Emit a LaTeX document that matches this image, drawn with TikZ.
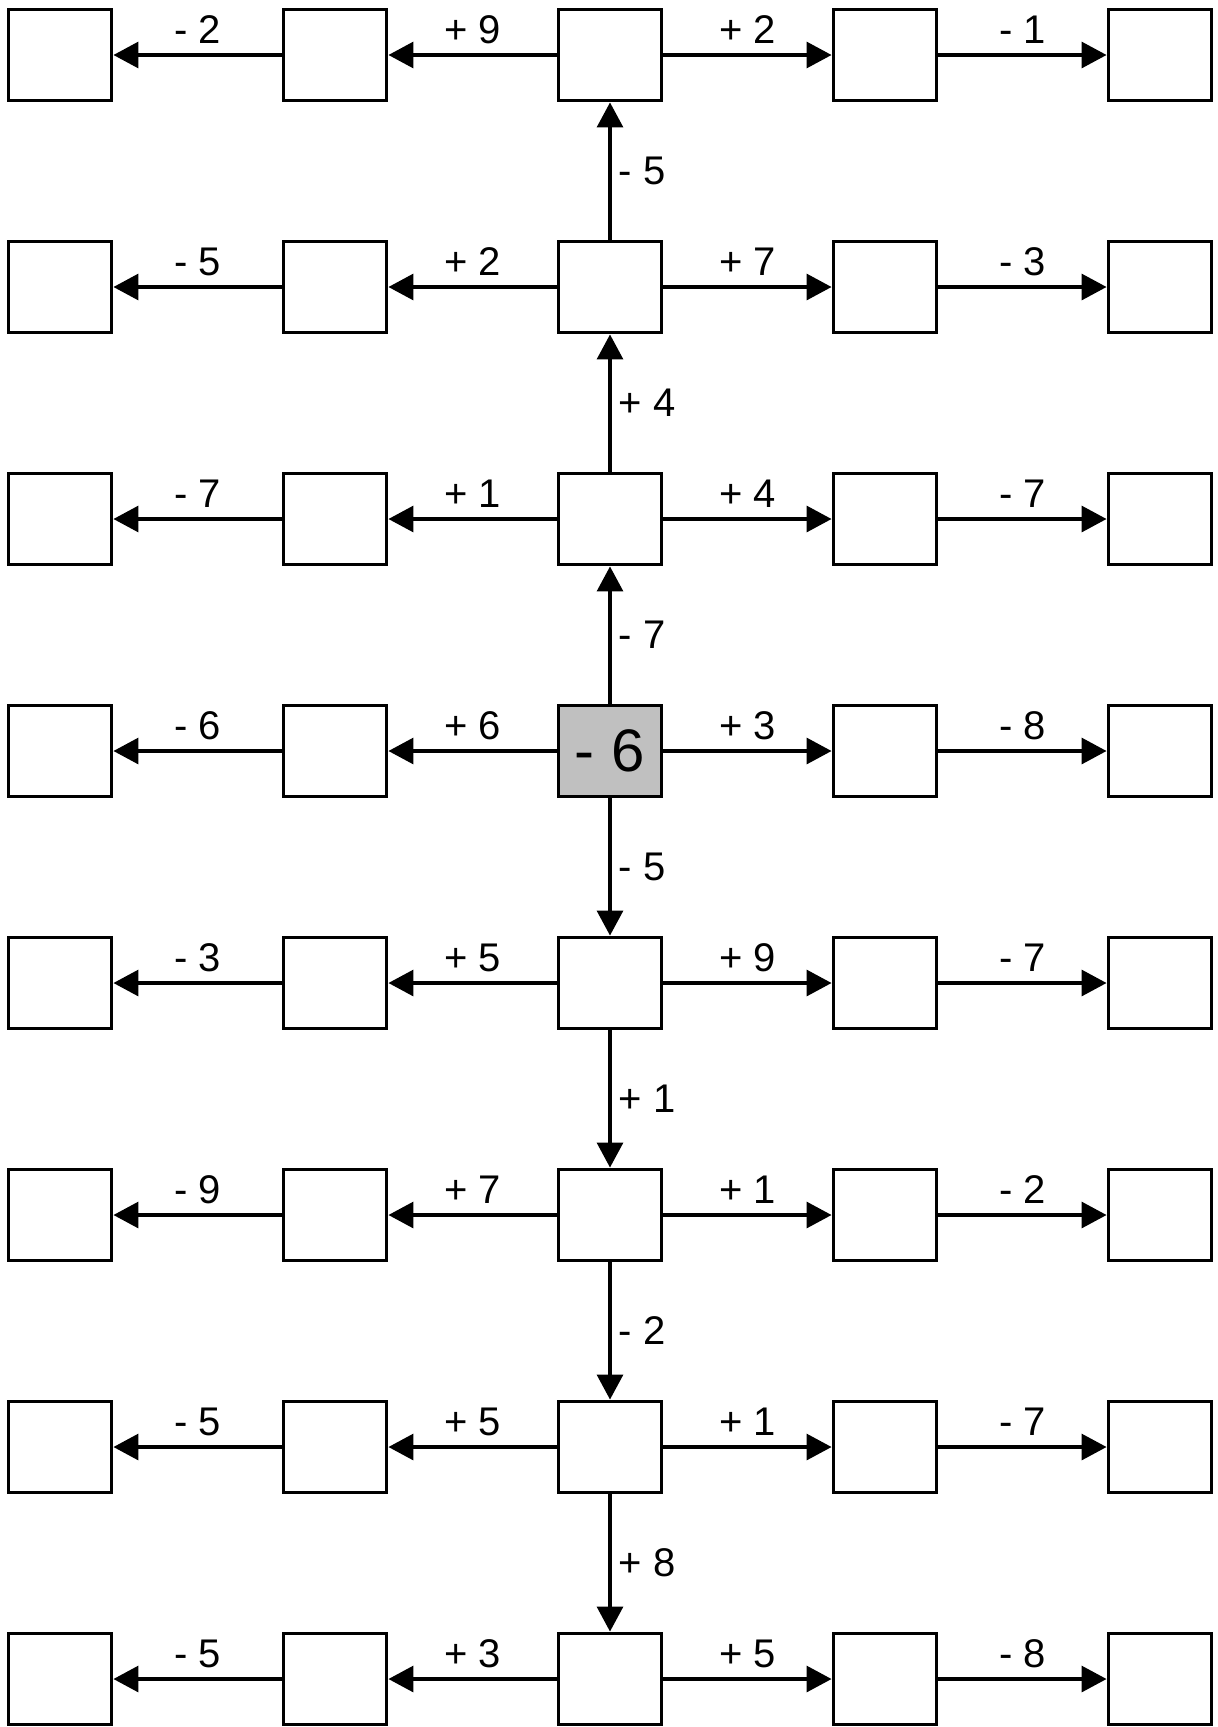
\documentclass[tikz,border=0pt]{standalone}
\usepackage{fontspec}
\setmainfont{Liberation Sans}
\usetikzlibrary{arrows.meta}
\begin{document}
\begin{tikzpicture}[x=1pt,y=-1pt,
  box/.style={draw, line width=3.4pt, minimum width=103.5pt, minimum height=91.5pt, inner sep=0, fill=white},
  arr/.style={line width=3.2pt, -{Triangle[length=25pt,width=26pt]}},
  hlab/.style={midway, anchor=base, yshift=12pt, inner sep=0, font=\fontsize{40}{46}\selectfont},
  vlab/.style={midway, anchor=west, xshift=7pt, inner sep=0, font=\fontsize{40}{46}\selectfont}]
\useasboundingbox (0,0) rectangle (1218,1727);
\foreach \r in {0,...,7}{
  \foreach \c/\x in {0/60,1/335,2/610,3/885,4/1160}{
    \node[box] (b-\r-\c) at (\x, 55+232*\r) {};
  }
}
\node[box, fill={rgb,255:red,192;green,192;blue,192}, font=\fontsize{60}{66}\selectfont] at (b-3-2) {- 6};
\foreach \r/\a/\b/\c/\d in {0/{- 2}/{+ 9}/{+ 2}/{- 1},
  1/{- 5}/{+ 2}/{+ 7}/{- 3},
  2/{- 7}/{+ 1}/{+ 4}/{- 7},
  3/{- 6}/{+ 6}/{+ 3}/{- 8},
  4/{- 3}/{+ 5}/{+ 9}/{- 7},
  5/{- 9}/{+ 7}/{+ 1}/{- 2},
  6/{- 5}/{+ 5}/{+ 1}/{- 7},
  7/{- 5}/{+ 3}/{+ 5}/{- 8}}{
  \draw[arr] (b-\r-1) -- node[hlab] {\a} (b-\r-0);
  \draw[arr] (b-\r-2) -- node[hlab] {\b} (b-\r-1);
  \draw[arr] (b-\r-2) -- node[hlab] {\c} (b-\r-3);
  \draw[arr] (b-\r-3) -- node[hlab] {\d} (b-\r-4);
}
\foreach \f/\t/\l in {3/2/{- 7}, 2/1/{+ 4}, 1/0/{- 5}, 3/4/{- 5}, 4/5/{+ 1}, 5/6/{- 2}, 6/7/{+ 8}}{
  \draw[arr] (b-\f-2) -- node[vlab] {\l} (b-\t-2);
}
\end{tikzpicture}
\end{document}
